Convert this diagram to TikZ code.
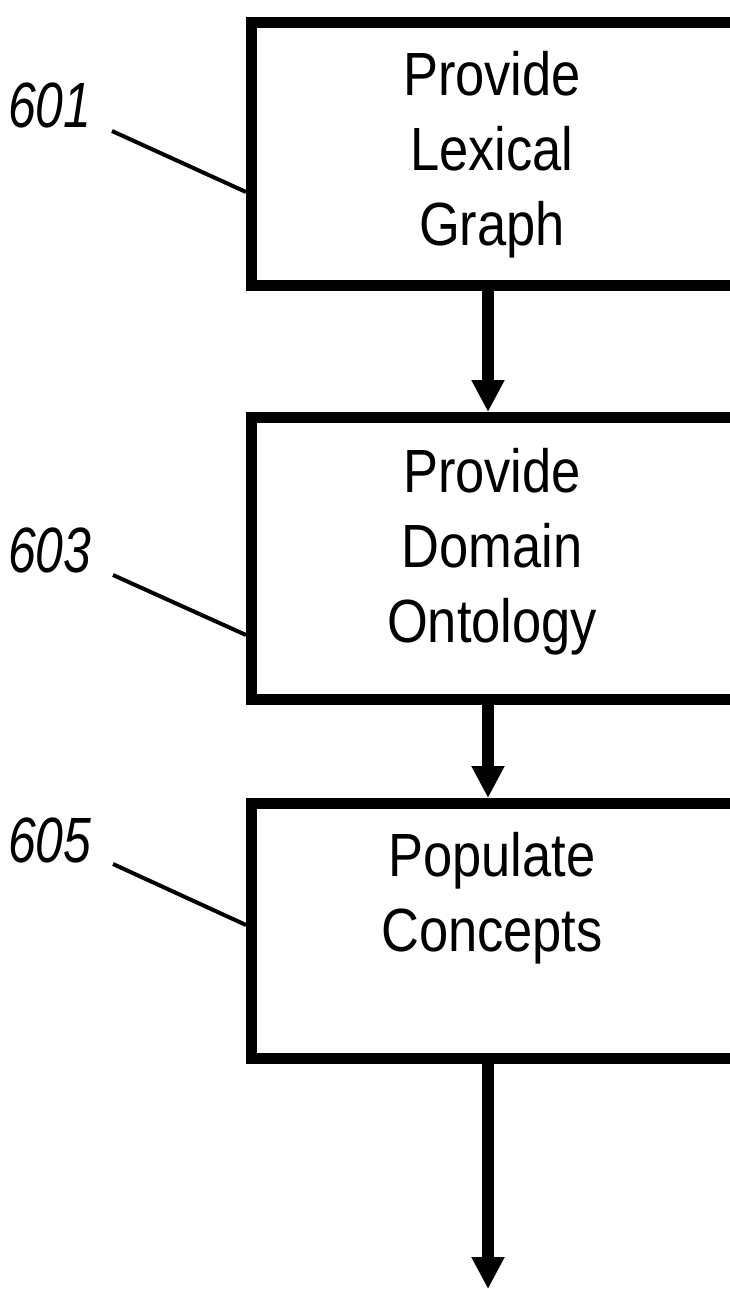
\documentclass[tikz,border=0pt]{standalone}
\usepackage{fontspec}
\usetikzlibrary{arrows.meta}
\newfontfamily\stepfont[FakeStretch=0.86]{Liberation Sans}
\newfontfamily\reffont[FakeStretch=0.78]{Liberation Sans}
\tikzset{
  stepbox/.style={draw=black, line width=11pt, rectangle, fill=white, inner sep=0pt},
  steptext/.style={font=\stepfont\fontsize{61}{75}\selectfont, align=center, inner sep=0pt},
  reflabel/.style={font=\reffont\itshape\fontsize{64}{70}\selectfont, inner sep=0pt, anchor=base west},
  leader/.style={draw=black, line width=4pt},
  flow/.style={draw=black, line width=12pt, -{Triangle[width=31pt,length=32pt]}},
}
\begin{document}
\begin{tikzpicture}[x=1pt,y=1pt]
  \useasboundingbox (0,0) rectangle (730,-1289);
  \clip (0,0) rectangle (730,-1289);
  \fill[white] (0,0) rectangle (730,-1289);

  % process boxes (their right sides run past the page edge)
  \node[stepbox, anchor=north west, minimum width=514pt, minimum height=263pt] (b1) at (246,-17) {};
  \node[stepbox, anchor=north west, minimum width=514pt, minimum height=282pt] (b2) at (246,-412) {};
  \node[stepbox, anchor=north west, minimum width=514pt, minimum height=255pt] (b3) at (246,-798) {};

  % box captions
  \node[steptext] (t1) at (492,-155) {Provide\\Lexical\\Graph};
  \node[steptext] (t2) at (492,-551.5) {Provide\\Domain\\Ontology};
  \node[steptext] (t3) at (492,-898.5) {Populate\\Concepts};

  % reference numerals
  \node[reflabel] (l1) at (8,-128) {601};
  \node[reflabel] (l2) at (8,-572) {603};
  \node[reflabel] (l3) at (8,-862) {605};

  % leader lines
  \coordinate (s1) at (112,-131);
  \coordinate (s2) at (113,-575);
  \coordinate (s3) at (113,-864);
  \coordinate (e1) at (0,-192);
  \coordinate (e2) at (0,-635);
  \coordinate (e3) at (0,-925);
  \draw[leader] (s1) -- (b1.west |- e1);
  \draw[leader] (s2) -- (b2.west |- e2);
  \draw[leader] (s3) -- (b3.west |- e3);

  % flow arrows
  \coordinate (ax) at (488,0);
  \coordinate (out) at (488,-1289);
  \draw[flow] (b1.south -| ax) -- (b2.north -| ax);
  \draw[flow] (b2.south -| ax) -- (b3.north -| ax);
  \draw[flow] (b3.south -| ax) -- (out);
\end{tikzpicture}
\end{document}
